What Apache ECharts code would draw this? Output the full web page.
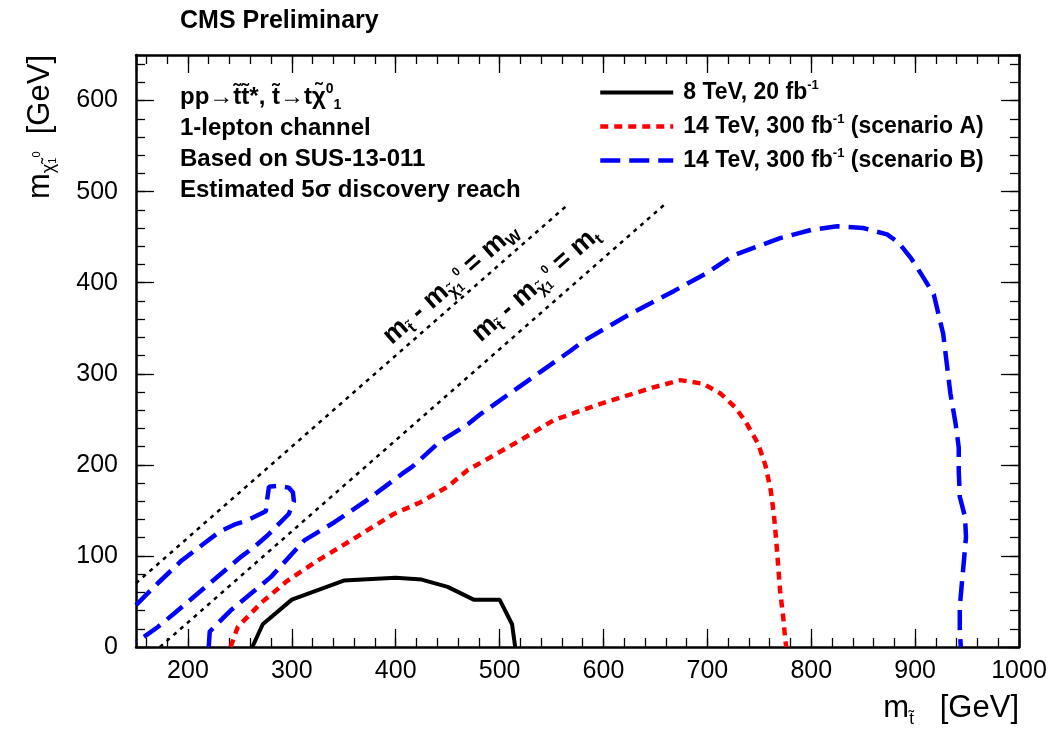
<!DOCTYPE html>
<html><head><meta charset="utf-8">
<script src="https://cdn.jsdelivr.net/npm/echarts@6/dist/echarts.min.js"></script>
<style>html,body{margin:0;padding:0;background:#fff}#c{width:1061px;height:734px}</style>
</head><body><div id="c"></div>
<script>
// ---- data ----
const seriesNames = ['8 TeV, 20 fb-1', '14 TeV, 300 fb-1 (scenario A)', '14 TeV, 300 fb-1 (scenario B)'];
const reach8TeV = [[262,0],[272,25],[300,52],[350,73],[400,76],[425,74],[450,66],[475,52],[500,52],[512,25],[515,0]];
const reach14A = [[241,0],[248,22],[270,48],[296,73],[325,95],[354,115],[398,146],[424,159],[450,176],[469,194],[520,227],[552,249],[597,267],[648,285],[674,293],[696,289],[713,278],[727,263],[737,247],[749,223],[756,199],[761,172],[764,146],[766,121],[768,92],[770,62],[773,33],[775,8],[776,0]];
const reach14B = [[220,0],[221,17],[241,40],[261,59],[280,77],[312,117],[341,137],[372,161],[406,190],[416,198],[442,225],[470,245],[482,256],[523,289],[568,325],[581,336],[623,364],[668,391],[700,411],[725,430],[770,449],[800,458],[825,462],[850,460],[873,453],[884,444],[896,427],[905,411],[918,387],[927,344],[934,278],[939,245],[942,219],[942,194],[943,165],[948,143],[949,121],[947,95],[945,70],[943,44],[943,19],[944,0]];
const reach14BLeft = [[150,46],[171,70],[194,95],[217,115],[231,127],[246,135],[257,139],[275,149],[276,160],[278,176],[287,177],[297,175],[301,170],[302,160],[297,146],[277,123],[265,111],[251,99],[219,68],[187,37],[171,22],[150,5]];
const diagW = [[150,70],[565,485]];
const diagT = [[173,0],[658,485]];
const xTickLabels = [200,300,400,500,600,700,800,900,1000];
const yTickLabels = [0,100,200,300,400,500,600];
const infoLines = ['pp→t\u0303t\u0303*, t\u0303→tχ\u0303{p|0}{b|1}', '1-lepton channel', 'Based on SUS-13-011', 'Estimated 5σ discovery reach'];
const diagLabels = ['m{s|t\u0303} - m{s|χ\u0303}{b|1}{p|0} = m{s|W}', 'm{s|t\u0303} - m{s|χ\u0303}{b|1}{p|0} = m{s|t}'];
const diagLabelAnchors = [[453,399],[535,398]];

const FF = 'Liberation Sans, Arial, Helvetica, sans-serif';
const chart = echarts.init(document.getElementById('c'), null, {renderer: 'canvas'});

function xAx(pos, major, labels) {
  return {
    type: 'value', position: pos, min: 150, max: 1000,
    minInterval: major ? 100 : 20, maxInterval: major ? 100 : 20,
    axisLine: {show: major, onZero: false, lineStyle: {color: '#000', width: 2.5}},
    axisTick: {show: true, inside: true, length: major ? 18 : 9, lineStyle: {color: '#000', width: 1.3}},
    axisLabel: {show: labels, color: '#000', fontSize: 25, fontFamily: FF, margin: 12,
      showMinLabel: false, formatter: v => xTickLabels.indexOf(v) >= 0 ? String(v) : ''},
    splitLine: {show: false}
  };
}
function yAx(pos, major, labels) {
  return {
    type: 'value', position: pos, min: 0, max: 650, interval: major ? 100 : 20,
    axisLine: {show: major, onZero: false, lineStyle: {color: '#000', width: 2.5}},
    axisTick: {show: true, inside: true, length: major ? 18 : 9, lineStyle: {color: '#000', width: 1.3}},
    axisLabel: {show: labels, color: '#000', fontSize: 25, fontFamily: FF, margin: 18,
      showMaxLabel: false, formatter: v => yTickLabels.indexOf(v) >= 0 ? String(v) : ''},
    splitLine: {show: false}
  };
}

function lineSeries(name, data, color, width, type) {
  return {
    name: name, type: 'line', data: data, xAxisIndex: 0, yAxisIndex: 0,
    symbol: 'none', showSymbol: false, smooth: false, clip: true, silent: true,
    lineStyle: {color: color, width: width, type: type, cap: 'butt'},
    itemStyle: {color: color}, z: 5
  };
}

const option = {
  animation: false,
  backgroundColor: '#fff',
  grid: {left: 136, right: 42, top: 55, bottom: 87, containLabel: false},
  xAxis: [xAx('bottom', true, true), xAx('bottom', false, false), xAx('top', true, false), xAx('top', false, false)],
  yAxis: [yAx('left', true, true), yAx('left', false, false), yAx('right', true, false), yAx('right', false, false)],
  legend: {
    show: true, orient: 'vertical', left: 593, top: 74,
    data: seriesNames, itemWidth: 73, itemHeight: 14, itemGap: 7,
    selectedMode: false,
    itemStyle: {opacity: 0},
    lineStyle: {width: 'inherit', type: 'inherit'},
    formatter: n => n.replace('fb-1', 'fb{sup|-1}'),
    textStyle: {color: '#000', fontSize: 23, fontWeight: 'bold', fontFamily: FF, lineHeight: 27, padding: [0, 0, 0, 5],
      rich: {sup: {fontSize: 13, fontWeight: 'bold', fontFamily: FF, verticalAlign: 'top', color: '#000'}}}
  },
  series: [
    lineSeries('diagW', diagW, '#000', 2.5, [4, 5]),
    lineSeries('diagT', diagT, '#000', 2.5, [4, 5]),
    lineSeries(seriesNames[0], reach8TeV, '#000', 4, 'solid'),
    lineSeries(seriesNames[1], reach14A, '#ff0000', 4.5, [8, 6]),
    lineSeries(seriesNames[2], reach14B, '#0000ff', 4.5, [20, 9]),
    lineSeries(seriesNames[2] + ' ', reach14BLeft, '#0000ff', 4.5, [20, 9])
  ]
};
chart.setOption(option);

// ---- text annotations ----
const richSmall = {
  s: {fontSize: 16, fontWeight: 'bold', fontFamily: FF, verticalAlign: 'bottom', fill: '#000'},
  b: {fontSize: 12, fontWeight: 'bold', fontFamily: FF, verticalAlign: 'bottom', fill: '#000'},
  p: {fontSize: 12, fontWeight: 'bold', fontFamily: FF, verticalAlign: 'middle', padding: [0, 0, 10, 0], fill: '#000'}
};
const graphics = [];
graphics.push({type: 'text', x: 180, y: 21, style: {text: 'CMS Preliminary', fontSize: 25, fontWeight: 'bold', fontFamily: FF, fill: '#000',
  align: 'left', verticalAlign: 'middle'}});
infoLines.forEach((t, i) => {
  graphics.push({type: 'text', x: 180, y: 97 + i * 31, style: {text: t, fill: '#000', fontSize: 24, fontWeight: 'bold', fontFamily: FF,
    align: 'left', verticalAlign: 'middle', lineHeight: 30,
    rich: {p: {fontSize: 14, fontWeight: 'bold', fontFamily: FF, verticalAlign: 'top', fill: '#000'},
           b: {fontSize: 14, fontWeight: 'bold', fontFamily: FF, verticalAlign: 'bottom', fill: '#000'}}}});
});
const pa = chart.convertToPixel({xAxisIndex: 0, yAxisIndex: 0}, diagW[0]);
const pb = chart.convertToPixel({xAxisIndex: 0, yAxisIndex: 0}, diagW[1]);
const ang = Math.atan2(pa[1] - pb[1], pb[0] - pa[0]);
diagLabels.forEach((t, i) => {
  const p = chart.convertToPixel({xAxisIndex: 0, yAxisIndex: 0}, diagLabelAnchors[i]);
  graphics.push({type: 'text', x: p[0], y: p[1], rotation: ang, style: {text: t, fill: '#000', fontSize: 27, fontWeight: 'bold', fontFamily: FF,
    align: 'center', verticalAlign: 'middle', lineHeight: 32, rich: richSmall}});
});
// axis titles
graphics.push({type: 'text', x: 1019, y: 708, style: {text: 'm{s|t\u0303}   [GeV]', fill: '#000', fontSize: 31, fontFamily: FF,
  align: 'right', verticalAlign: 'middle', lineHeight: 40,
  rich: {s: {fontSize: 17, fontFamily: FF, verticalAlign: 'bottom', fill: '#000'}}}});
graphics.push({type: 'text', x: 40, y: 127, rotation: Math.PI / 2, style: {text: 'm{s|χ\u0303}{b|1}{p|0}  [GeV]', fill: '#000', fontSize: 31, fontFamily: FF,
  align: 'center', verticalAlign: 'middle', lineHeight: 36,
  rich: {s: {fontSize: 18, fontFamily: FF, verticalAlign: 'bottom', fill: '#000'},
         b: {fontSize: 11, fontFamily: FF, verticalAlign: 'bottom', fill: '#000'},
         p: {fontSize: 11, fontFamily: FF, verticalAlign: 'middle', padding: [0, 0, 6, 0], fill: '#000'}}}});
chart.setOption({graphic: graphics});
</script></body></html>
